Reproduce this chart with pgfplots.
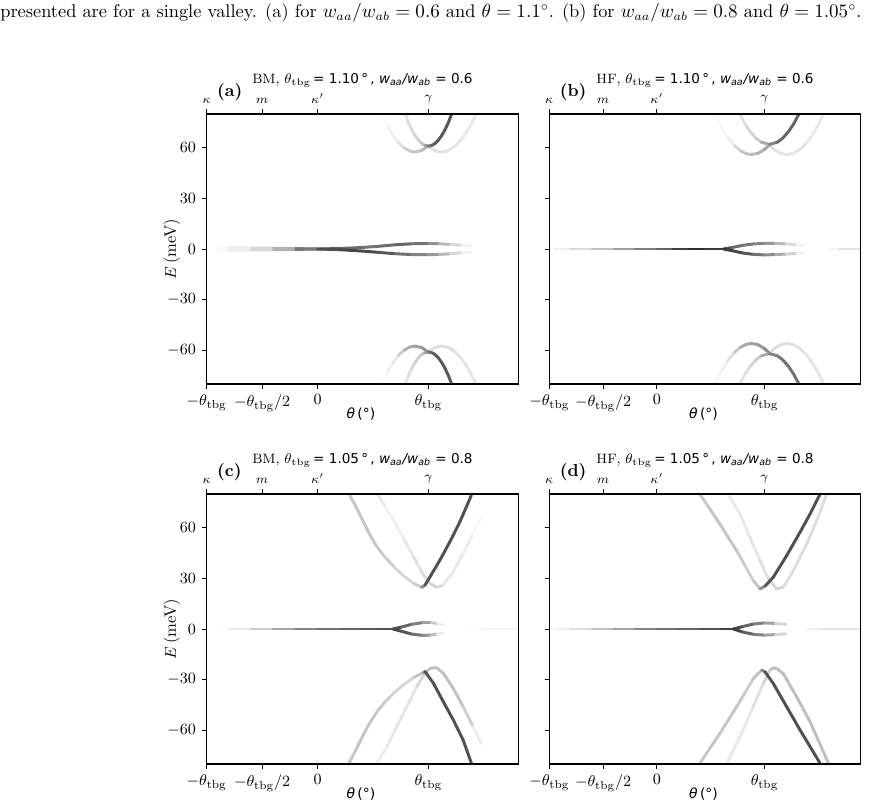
\documentclass[border=0pt]{standalone}
\usepackage{fontspec}
\usepackage{pgfplots}
\pgfplotsset{compat=1.18}
\newfontfamily\dejavu{DejaVu Sans}
\newcommand{\ttbg}{\theta_{\mathrm{tbg}}}
\pgfplotsset{
  panel/.style={
    scale only axis, width=179.1pt, height=155.25pt,
    xmin=-1, ymin=-80, ymax=80,
    xtick={-1,-0.5,0,1},
    xticklabels={$-\ttbg$,$-\ttbg/2$,$0$,$\ttbg$},
    ytick={-60,-30,0,30,60},
    tick align=outside, xtick pos=bottom, ytick pos=left,
    major tick length=2.6pt,
    every tick/.style={black, line width=0.5pt},
    axis line style={line width=0.7pt},
    ticklabel style={font=\fontsize{9.5}{10}\selectfont},
    colormap={bw}{gray(0cm)=(1); gray(1cm)=(0)},
    point meta min=0, point meta max=1,
    anchor=south west, axis on top, clip mode=individual,
    every axis y label/.style={at={(axis description cs:-0.112,0.5)}, rotate=90, anchor=center, font=\fontsize{9.5}{10}\selectfont},
    every axis x label/.style={at={(axis description cs:0.495,-0.128)}, anchor=base, font=\fontsize{8}{9}\selectfont},
    xlabel={{\dejavu\itshape θ}\,{\dejavu(°)}},
  },
  toppanel/.style={
    scale only axis, width=179.1pt, height=155.25pt,
    xmin=-1, ymin=-80, ymax=80,
    hide y axis, axis x line*=top,
    xtick={-1,-0.5,0,1},
    xticklabels={$\kappa$,$m$,$\kappa'$,$\gamma$},
    tick align=outside, major tick length=2.6pt,
    every tick/.style={black, line width=0.5pt},
    axis line style={line width=0.7pt},
    ticklabel style={font=\fontsize{7.5}{8}\selectfont},
    anchor=south west,
  },
  band/.style={mesh, point meta=explicit, line width=1.7pt, line cap=round},
}
\newcommand{\ptitle}[3]{#1, $\ttbg$\,{\dejavu = #2\,°\,, {\itshape w\textsubscript{aa}/w\textsubscript{ab}} = #3}}
\newcommand{\plab}[1]{\node[anchor=base west, font=\fontsize{10}{11}\selectfont\bfseries] at (axis description cs:0.014,1.064) {(#1)};}
\newcommand{\ptit}[3]{\node[anchor=base, font=\fontsize{7.8}{9}\selectfont] at (axis description cs:0.5,1.113) {\ptitle{#1}{#2}{#3}};}
\begin{document}
\begin{tikzpicture}
\useasboundingbox (0,0) rectangle (500.25pt,461.7pt);
\node[anchor=base west, inner sep=0pt, font=\fontsize{10.55}{12}\selectfont] at (0pt,451.6pt)
  {presented are for a single valley. (a) for $w_{aa}/w_{ab}=0.6$ and $\theta=1.1^\circ$. (b) for $w_{aa}/w_{ab}=0.8$ and $\theta=1.05^\circ$.};

% ---------------- (a) ----------------
\begin{axis}[panel, xmax=1.81, at={(118.85pt,240.9pt)}, ylabel={$E$\,(meV)}]
\addplot[band] table[row sep=\\,meta=c]{x y c\\ 1.00 60.9 0.15\\ 1.04 59.0 0.12\\ 1.08 57.9 0.1\\ 1.12 57.5 0.1\\ 1.16 57.9 0.1\\ 1.20 59.0 0.1\\ 1.25 61.5 0.1\\ 1.30 65.1 0.09\\ 1.35 69.9 0.08\\ 1.40 75.8 0.08\\ 1.43 80.0 0.08\\};
\addplot[band] table[row sep=\\,meta=c]{x y c\\ 0.58 80.0 0.01\\ 0.63 73.1 0.03\\ 0.68 67.5 0.05\\ 0.73 63.1 0.08\\ 0.78 60.0 0.15\\ 0.83 58.1 0.22\\ 0.88 57.5 0.22\\ 0.94 58.4 0.25\\ 1.00 61.1 0.3\\};
\addplot[band] table[row sep=\\,meta=c]{x y c\\ 0.79 80.0 0.1\\ 0.82 74.9 0.13\\ 0.85 70.7 0.15\\ 0.88 67.2 0.16\\ 0.91 64.5 0.18\\ 0.94 62.5 0.2\\ 0.97 61.4 0.28\\ 1.00 61.0 0.5\\ 1.03 61.4 0.6\\ 1.06 62.5 0.65\\ 1.09 64.5 0.65\\ 1.12 67.2 0.65\\ 1.15 70.7 0.65\\ 1.18 74.9 0.65\\ 1.21 80.0 0.65\\};
\addplot[band] table[row sep=\\,meta=c]{x y c\\ 1.00 -60.9 0.15\\ 1.06 -58.3 0.12\\ 1.12 -57.5 0.12\\ 1.18 -58.3 0.12\\ 1.24 -60.9 0.12\\ 1.30 -65.1 0.1\\ 1.36 -71.0 0.1\\ 1.43 -80.0 0.1\\};
\addplot[band] table[row sep=\\,meta=c]{x y c\\ 0.58 -80.0 0.01\\ 0.63 -73.1 0.04\\ 0.68 -67.5 0.07\\ 0.73 -63.1 0.12\\ 0.78 -60.0 0.25\\ 0.83 -58.1 0.33\\ 0.88 -57.5 0.35\\ 0.94 -58.4 0.38\\ 1.00 -61.1 0.45\\};
\addplot[band] table[row sep=\\,meta=c]{x y c\\ 0.79 -80.0 0.1\\ 0.82 -74.9 0.12\\ 0.85 -70.7 0.14\\ 0.88 -67.2 0.16\\ 0.91 -64.5 0.18\\ 0.94 -62.5 0.2\\ 0.97 -61.4 0.28\\ 1.00 -61.0 0.5\\ 1.03 -61.4 0.6\\ 1.06 -62.5 0.65\\ 1.09 -64.5 0.65\\ 1.12 -67.2 0.65\\ 1.15 -70.7 0.65\\ 1.18 -74.9 0.65\\ 1.21 -80.0 0.65\\};
\addplot[band] table[row sep=\\,meta=c]{x y c\\ -0.90 0.7 0.0\\ -0.80 0.7 0.04\\ -0.60 0.6 0.1\\ -0.40 0.45 0.2\\ -0.20 0.25 0.4\\ 0.00 0.0 0.65\\ 0.20 0.3 0.6\\ 0.40 0.9 0.55\\ 0.55 1.6 0.55\\ 0.70 2.5 0.6\\ 0.85 3.1 0.6\\ 1.00 3.3 0.5\\ 1.10 3.1 0.35\\ 1.20 2.7 0.2\\ 1.30 2.2 0.1\\ 1.38 1.8 0.0\\};
\addplot[band] table[row sep=\\,meta=c]{x y c\\ -0.90 -0.7 0.0\\ -0.80 -0.7 0.04\\ -0.60 -0.6 0.1\\ -0.40 -0.45 0.2\\ -0.20 -0.25 0.4\\ 0.00 0.0 0.65\\ 0.20 -0.4 0.72\\ 0.40 -1.2 0.72\\ 0.55 -2.0 0.68\\ 0.70 -2.8 0.62\\ 0.85 -3.3 0.5\\ 1.00 -3.4 0.45\\ 1.10 -3.2 0.35\\ 1.20 -2.8 0.2\\ 1.30 -2.2 0.1\\ 1.38 -1.8 0.0\\};
\ptit{BM}{1.10}{0.6}
\plab{a}
\end{axis}
\begin{axis}[toppanel, xmax=1.81, at={(118.85pt,240.9pt)}]
\end{axis}

% ---------------- (b) ----------------
\begin{axis}[panel, xmax=1.895, at={(315.85pt,240.9pt)}, yticklabels={}]
\addplot[band] table[row sep=\\,meta=c]{x y c\\ 1.045 61.7 0.15\\ 1.10 58.5 0.12\\ 1.16 56.5 0.1\\ 1.21 56.0 0.1\\ 1.26 56.5 0.1\\ 1.32 58.5 0.1\\ 1.38 62.0 0.1\\ 1.44 67.0 0.09\\ 1.50 73.5 0.08\\ 1.55 80.0 0.08\\};
\addplot[band] table[row sep=\\,meta=c]{x y c\\ 0.54 80.0 0.01\\ 0.60 72.3 0.03\\ 0.66 66.1 0.05\\ 0.72 61.3 0.1\\ 0.78 58.1 0.2\\ 0.83 56.5 0.25\\ 0.88 56.0 0.25\\ 0.94 56.7 0.28\\ 1.00 59.0 0.32\\ 1.045 61.7 0.38\\};
\addplot[band] table[row sep=\\,meta=c]{x y c\\ 0.77 80.0 0.1\\ 0.82 74.0 0.13\\ 0.87 69.3 0.16\\ 0.92 65.7 0.18\\ 0.97 63.3 0.22\\ 1.045 62.0 0.45\\ 1.12 63.3 0.55\\ 1.17 65.7 0.6\\ 1.22 69.3 0.6\\ 1.27 74.0 0.6\\ 1.32 80.0 0.6\\};
\addplot[band] table[row sep=\\,meta=c]{x y c\\ 1.045 -61.7 0.15\\ 1.10 -58.5 0.12\\ 1.16 -56.5 0.12\\ 1.21 -56.0 0.12\\ 1.26 -56.5 0.12\\ 1.32 -58.5 0.12\\ 1.38 -62.0 0.1\\ 1.44 -67.0 0.1\\ 1.50 -73.5 0.1\\ 1.55 -80.0 0.1\\};
\addplot[band] table[row sep=\\,meta=c]{x y c\\ 0.54 -80.0 0.02\\ 0.60 -72.3 0.05\\ 0.66 -66.1 0.08\\ 0.72 -61.3 0.15\\ 0.78 -58.1 0.3\\ 0.83 -56.5 0.35\\ 0.88 -56.0 0.35\\ 0.94 -56.7 0.38\\ 1.00 -59.0 0.42\\ 1.045 -61.7 0.48\\};
\addplot[band] table[row sep=\\,meta=c]{x y c\\ 0.77 -80.0 0.1\\ 0.82 -74.0 0.12\\ 0.87 -69.3 0.15\\ 0.92 -65.7 0.18\\ 0.97 -63.3 0.22\\ 1.045 -62.0 0.45\\ 1.12 -63.3 0.52\\ 1.17 -65.7 0.55\\ 1.22 -69.3 0.55\\ 1.27 -74.0 0.55\\ 1.32 -80.0 0.55\\};
\addplot[band] table[row sep=\\,meta=c]{x y c\\ 1.62 0 0.0\\ 1.70 0 0.1\\ 1.80 0 0.12\\ 1.90 0 0.12\\};
\addplot[band] table[row sep=\\,meta=c]{x y c\\ 0.62 0 0.75\\ 0.70 0.9 0.6\\ 0.80 2.2 0.55\\ 0.90 3.0 0.5\\ 1.00 3.4 0.45\\ 1.10 3.3 0.35\\ 1.20 3.0 0.2\\ 1.30 2.6 0.08\\ 1.36 2.3 0.0\\};
\addplot[band] table[row sep=\\,meta=c]{x y c\\ 0.62 0 0.75\\ 0.70 -1.0 0.75\\ 0.80 -2.4 0.7\\ 0.90 -3.2 0.6\\ 1.00 -3.5 0.5\\ 1.10 -3.3 0.4\\ 1.20 -3.0 0.25\\ 1.30 -2.6 0.1\\ 1.36 -2.3 0.0\\};
\addplot[band] table[row sep=\\,meta=c]{x y c\\ -0.95 0 0.03\\ -0.80 0 0.1\\ -0.60 0 0.18\\ -0.40 0 0.3\\ -0.20 0 0.45\\ 0.00 0 0.55\\ 0.15 0 0.65\\ 0.30 0 0.85\\ 0.45 0 0.78\\ 0.62 0 0.75\\};
\ptit{HF}{1.10}{0.6}
\plab{b}
\end{axis}
\begin{axis}[toppanel, xmax=1.895, at={(315.85pt,240.9pt)}]
\end{axis}

% ---------------- (c) ----------------
\begin{axis}[panel, xmax=1.81, at={(118.85pt,22.4pt)}, ylabel={$E$\,(meV)}]
\addplot[band] table[row sep=\\,meta=c]{x y c\\ 0.537 80.3 0.1\\ 0.612 72.4 0.07\\ 0.687 64.5 0.04\\ 0.776 53.6 0.08\\ 0.866 42.8 0.1\\ 0.955 32.0 0.13\\ 1.015 27.0 0.16\\ 1.075 24.7 0.18\\ 1.134 26.0 0.1\\ 1.224 33.9 0.08\\ 1.313 44.8 0.08\\ 1.403 56.6 0.05\\ 1.478 66.5 0.0\\};
\addplot[band] table[row sep=\\,meta=c]{x y c\\ 0.284 80.0 0.2\\ 0.343 73.0 0.22\\ 0.403 65.0 0.22\\ 0.463 57.0 0.22\\ 0.522 50.0 0.22\\ 0.597 43.5 0.2\\ 0.687 37.0 0.18\\ 0.776 31.5 0.15\\ 0.866 27.0 0.15\\ 0.940 24.7 0.25\\ 0.970 26.0 0.65\\ 1.015 31.0 0.68\\ 1.104 40.8 0.68\\ 1.194 51.7 0.68\\ 1.284 63.5 0.68\\ 1.388 79.3 0.68\\};
\addplot[band] table[row sep=\\,meta=c]{x y c\\ 0.537 -79.5 0.06\\ 0.627 -69.6 0.08\\ 0.716 -57.8 0.1\\ 0.806 -46.0 0.1\\ 0.896 -34.1 0.12\\ 0.970 -26.2 0.18\\ 1.015 -23.3 0.25\\ 1.075 -22.9 0.25\\ 1.134 -26.2 0.25\\ 1.224 -35.1 0.25\\ 1.313 -46.0 0.22\\ 1.403 -57.8 0.15\\ 1.478 -67.7 0.0\\};
\addplot[band] table[row sep=\\,meta=c]{x y c\\ 0.284 -79.5 0.2\\ 0.343 -72.0 0.22\\ 0.403 -64.0 0.22\\ 0.463 -56.5 0.22\\ 0.537 -49.0 0.22\\ 0.612 -43.0 0.2\\ 0.687 -38.0 0.18\\ 0.776 -33.0 0.15\\ 0.866 -28.8 0.15\\ 0.955 -25.8 0.3\\ 0.970 -25.2 0.65\\ 1.045 -32.1 0.68\\ 1.134 -43.0 0.68\\ 1.224 -53.8 0.68\\ 1.313 -65.7 0.68\\ 1.388 -79.5 0.68\\};
\addplot[band] table[row sep=\\,meta=c]{x y c\\ 1.37 0 0.0\\ 1.50 0 0.04\\ 1.81 0 0.04\\};
\addplot[band] table[row sep=\\,meta=c]{x y c\\ 0.68 0 0.7\\ 0.76 1.2 0.65\\ 0.85 2.8 0.55\\ 0.95 3.8 0.45\\ 1.02 3.8 0.3\\ 1.08 3.2 0.15\\ 1.13 2.5 0.0\\};
\addplot[band] table[row sep=\\,meta=c]{x y c\\ 0.68 0 0.7\\ 0.76 -1.4 0.72\\ 0.85 -3.0 0.6\\ 0.95 -3.8 0.5\\ 1.02 -3.6 0.35\\ 1.08 -3.0 0.15\\ 1.13 -2.5 0.0\\};
\addplot[band] table[row sep=\\,meta=c]{x y c\\ -0.88 0 0.0\\ -0.80 0 0.04\\ -0.60 0 0.12\\ -0.40 0 0.28\\ -0.20 0 0.42\\ 0.00 0 0.52\\ 0.20 0 0.58\\ 0.40 0 0.6\\ 0.55 0 0.65\\ 0.68 0 0.7\\};
\ptit{BM}{1.05}{0.8}
\plab{c}
\end{axis}
\begin{axis}[toppanel, xmax=1.81, at={(118.85pt,22.4pt)}]
\end{axis}

% ---------------- (d) ----------------
\begin{axis}[panel, xmax=1.895, at={(315.85pt,22.4pt)}, yticklabels={}]
\addplot[band] table[row sep=\\,meta=c]{x y c\\ 0.663 79.9 0.08\\ 0.772 68.1 0.08\\ 0.865 54.3 0.1\\ 0.958 40.6 0.1\\ 1.035 29.7 0.13\\ 1.113 23.8 0.18\\ 1.175 24.8 0.13\\ 1.268 34.6 0.13\\ 1.392 50.4 0.13\\ 1.485 64.2 0.13\\ 1.578 79.9 0.13\\};
\addplot[band] table[row sep=\\,meta=c]{x y c\\ 0.400 79.9 0.2\\ 0.493 71.1 0.22\\ 0.586 62.2 0.22\\ 0.663 54.3 0.22\\ 0.741 46.5 0.22\\ 0.819 37.6 0.2\\ 0.896 28.7 0.18\\ 0.958 23.8 0.25\\ 1.005 25.4 0.65\\ 1.082 30.7 0.68\\ 1.206 43.5 0.68\\ 1.330 57.3 0.68\\ 1.423 68.1 0.68\\ 1.516 79.9 0.68\\};
\addplot[band] table[row sep=\\,meta=c]{x y c\\ 0.650 -79.5 0.08\\ 0.772 -63.8 0.08\\ 0.896 -46.1 0.1\\ 0.989 -32.3 0.13\\ 1.051 -24.4 0.2\\ 1.082 -23.0 0.25\\ 1.113 -23.4 0.25\\ 1.175 -26.4 0.25\\ 1.299 -40.2 0.25\\ 1.423 -54.9 0.25\\ 1.594 -79.5 0.25\\};
\addplot[band] table[row sep=\\,meta=c]{x y c\\ 0.400 -79.5 0.2\\ 0.493 -70.6 0.22\\ 0.586 -61.8 0.22\\ 0.663 -54.0 0.22\\ 0.741 -46.1 0.22\\ 0.819 -37.7 0.2\\ 0.896 -29.3 0.18\\ 0.974 -24.4 0.3\\ 1.005 -25.4 0.65\\ 1.082 -32.3 0.68\\ 1.206 -46.1 0.68\\ 1.330 -59.8 0.68\\ 1.516 -79.5 0.68\\};
\addplot[band] table[row sep=\\,meta=c]{x y c\\ 1.39 0 0.0\\ 1.50 0 0.1\\ 1.70 0 0.1\\ 1.90 0 0.1\\};
\addplot[band] table[row sep=\\,meta=c]{x y c\\ 0.71 0 0.75\\ 0.80 1.5 0.65\\ 0.90 3.0 0.55\\ 1.00 3.6 0.45\\ 1.10 3.3 0.28\\ 1.20 2.8 0.05\\};
\addplot[band] table[row sep=\\,meta=c]{x y c\\ 0.71 0 0.75\\ 0.80 -1.8 0.7\\ 0.90 -3.2 0.55\\ 1.00 -3.6 0.45\\ 1.10 -3.3 0.28\\ 1.20 -2.8 0.05\\};
\addplot[band] table[row sep=\\,meta=c]{x y c\\ -0.95 0 0.04\\ -0.80 0 0.08\\ -0.60 0 0.18\\ -0.40 0 0.3\\ -0.20 0 0.42\\ 0.00 0 0.52\\ 0.20 0 0.58\\ 0.40 0 0.62\\ 0.60 0 0.72\\ 0.71 0 0.75\\};
\ptit{HF}{1.05}{0.8}
\plab{d}
\end{axis}
\begin{axis}[toppanel, xmax=1.895, at={(315.85pt,22.4pt)}]
\end{axis}
\end{tikzpicture}
\end{document}
